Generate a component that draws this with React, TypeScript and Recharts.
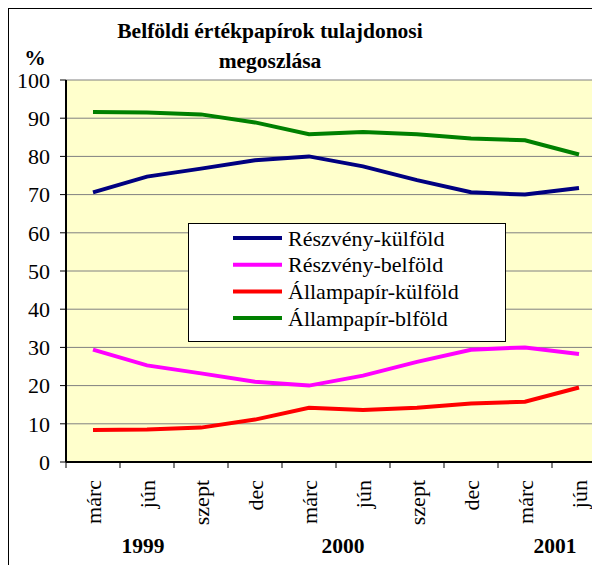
import { LineChart, Line, XAxis, YAxis, CartesianGrid, Legend } from 'recharts';

const months = ['márc', 'jún', 'szept', 'dec', 'márc', 'jún', 'szept', 'dec', 'márc', 'jún'];
const periods = ['1999-03', '1999-06', '1999-09', '1999-12', '2000-03', '2000-06', '2000-09', '2000-12', '2001-03', '2001-06'];
const years = ['1999', '2000', '2001'];
const yTicks = [0, 10, 20, 30, 40, 50, 60, 70, 80, 90, 100];

const reszvenyKulfold = [70.6, 74.7, 76.8, 79.0, 80.0, 77.4, 73.8, 70.6, 70.0, 71.7];
const reszvenyBelfold = [29.4, 25.3, 23.2, 21.0, 20.0, 22.6, 26.2, 29.4, 30.0, 28.3];
const allampapirKulfold = [8.4, 8.5, 9.0, 11.1, 14.2, 13.6, 14.2, 15.3, 15.8, 19.5];
const allampapirBelfold = [91.6, 91.5, 91.0, 88.9, 85.8, 86.4, 85.8, 84.7, 84.2, 80.5];

const series = [
  { key: 'rk', name: 'Részvény-külföld', color: '#000080', values: reszvenyKulfold },
  { key: 'rb', name: 'Részvény-belföld', color: '#ff00ff', values: reszvenyBelfold },
  { key: 'ak', name: 'Állampapír-külföld', color: '#ff0000', values: allampapirKulfold },
  { key: 'ab', name: 'Állampapír-blföld', color: '#008000', values: allampapirBelfold },
];

const data = periods.map((p, i) => {
  const row: Record<string, string | number> = { period: p };
  series.forEach((s) => {
    row[s.key] = s.values[i];
  });
  return row;
});

const FONT = '"Liberation Serif", "Times New Roman", serif';

// label centered on the point, tick mark half a band to the left
function MonthTick(props: any) {
  const { x, y, payload } = props;
  const i = periods.indexOf(payload.value);
  return (
    <g>
      <line x1={x - 27} y1={y - 18} x2={x - 27} y2={y - 12} stroke="#000" strokeWidth={1} />
      <text
        x={x}
        y={y}
        transform={`rotate(-90 ${x} ${y})`}
        textAnchor="end"
        dy="0.35em"
        fontFamily={FONT}
        fontSize={22}
        fill="#000"
      >
        {months[i]}
      </text>
    </g>
  );
}

function LegendBox() {
  return (
    <svg width={316} height={117} style={{ display: 'block' }}>
      {series.map((s, i) => {
        const cy = 14 + i * 26.7;
        return (
          <g key={s.key}>
            <line x1={44} y1={cy} x2={93} y2={cy} stroke={s.color} strokeWidth={4} />
            <text x={99} y={cy} dy="0.35em" fontFamily={FONT} fontSize={22} fill="#000">
              {s.name}
            </text>
          </g>
        );
      })}
    </svg>
  );
}

export default function App() {
  return (
    <div
      style={{
        position: 'relative',
        width: 600,
        height: 565,
        border: '1px solid #000',
        background: '#fff',
      }}
    >
      <LineChart
        width={600}
        height={556}
        data={data}
        margin={{ top: 71, right: 3, left: 7, bottom: 13 }}
      >
        <CartesianGrid fill="#ffffcc" stroke="#808080" vertical={false} />
        <XAxis
          dataKey="period"
          padding={{ left: 27, right: 27 }}
          height={90}
          axisLine={{ stroke: '#000', strokeWidth: 2 }}
          tickLine={false}
          tickSize={6}
          tickMargin={12}
          tick={<MonthTick />}
          interval={0}
        />
        <YAxis
          domain={[0, 100]}
          ticks={yTicks}
          width={50}
          axisLine={{ stroke: '#000', strokeWidth: 2 }}
          tickLine={{ stroke: '#000' }}
          tickSize={6}
          tickMargin={10}
          tick={{ fontFamily: FONT, fontSize: 22, fill: '#000' }}
          interval={0}
        />
        <Legend
          layout="vertical"
          align="center"
          verticalAlign="middle"
          content={() => <LegendBox />}
          wrapperStyle={{
            position: 'absolute',
            left: 179,
            top: 214,
            width: 318,
            height: 119,
            boxSizing: 'border-box',
            border: '1px solid #000',
            background: '#fff',
          }}
        />
        {series.map((s) => (
          <Line
            key={s.key}
            type="linear"
            dataKey={s.key}
            name={s.name}
            stroke={s.color}
            strokeWidth={4}
            dot={false}
            activeDot={false}
            isAnimationActive={false}
          />
        ))}
      </LineChart>
      <svg
        width={600}
        height={565}
        style={{ position: 'absolute', left: 0, top: 0, pointerEvents: 'none' }}
      >
        <g fontFamily={FONT} fontWeight="bold" fontSize={21.5} fill="#000" textAnchor="middle">
          <text x={261} y={29}>Belföldi értékpapírok tulajdonosi</text>
          <text x={261} y={59}>megoszlása</text>
          <text x={26} y={56}>%</text>
          <text x={134} y={544}>{years[0]}</text>
          <text x={334} y={544}>{years[1]}</text>
          <text x={546} y={544}>{years[2]}</text>
        </g>
      </svg>
    </div>
  );
}
